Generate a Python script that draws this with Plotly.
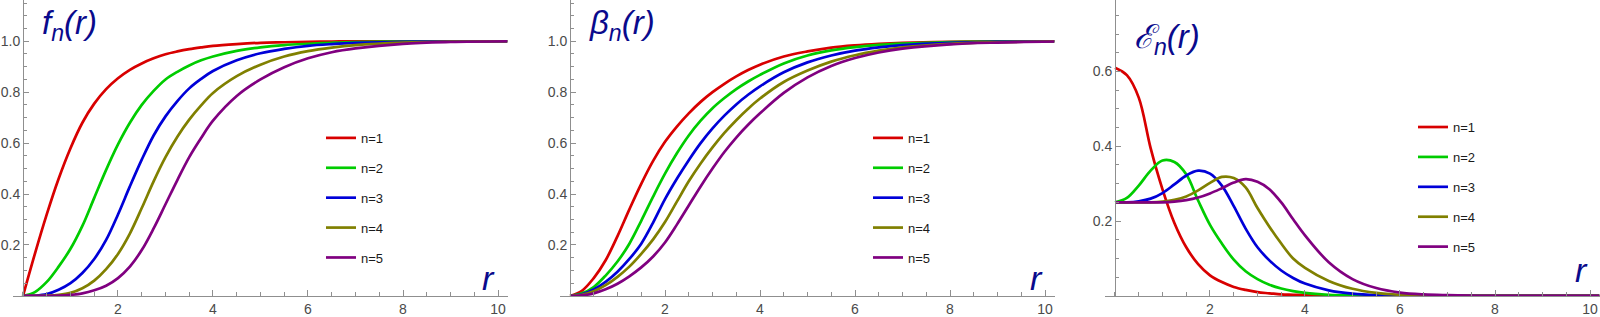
import plotly.graph_objects as go

# ---------------- data ----------------
r = [0, 0.25, 0.5, 0.75, 1, 1.25, 1.5, 1.75, 2, 2.25, 2.5, 2.75, 3, 3.25, 3.5, 3.75,
     4, 4.5, 5, 5.5, 6, 6.5, 7, 8, 9, 10.2]

series_names = ["n=1", "n=2", "n=3", "n=4", "n=5"]
colors = ["#d80000", "#00cc00", "#0000d8", "#808000", "#800080"]

f1 = [0, 0.165, 0.32, 0.46, 0.58, 0.68, 0.755, 0.812, 0.855, 0.888, 0.913, 0.933, 0.949, 0.96,
      0.969, 0.976, 0.982, 0.989, 0.994, 0.996, 0.998, 0.999, 1.0, 1.0, 1.0, 1.0]
f2 = [0, 0.015, 0.055, 0.115, 0.185, 0.275, 0.385, 0.495, 0.595, 0.68, 0.75, 0.805, 0.85, 0.88,
      0.905, 0.925, 0.94, 0.962, 0.976, 0.985, 0.99, 0.994, 0.997, 0.999, 1.0, 1.0]
f3 = [0, 0.001, 0.007, 0.024, 0.05, 0.09, 0.145, 0.22, 0.32, 0.43, 0.535, 0.63, 0.705, 0.765,
      0.815, 0.852, 0.883, 0.925, 0.953, 0.97, 0.982, 0.989, 0.994, 0.998, 1.0, 1.0]
f4 = [0, 0.0, 0.001, 0.004, 0.012, 0.03, 0.06, 0.105, 0.165, 0.245, 0.345, 0.45, 0.545, 0.625,
      0.692, 0.748, 0.797, 0.863, 0.908, 0.94, 0.961, 0.975, 0.985, 0.995, 0.999, 1.0]
f5 = [0, 0.0, 0.0005, 0.001, 0.004, 0.01, 0.022, 0.04, 0.07, 0.115, 0.18, 0.265, 0.36, 0.455,
      0.545, 0.62, 0.688, 0.785, 0.85, 0.898, 0.933, 0.957, 0.972, 0.99, 0.997, 1.0]

b1 = [0, 0.02, 0.07, 0.14, 0.235, 0.34, 0.44, 0.53, 0.605, 0.665, 0.717, 0.762, 0.8, 0.833,
      0.862, 0.887, 0.908, 0.94, 0.96, 0.975, 0.984, 0.99, 0.994, 0.998, 1.0, 1.0]
b2 = [0, 0.01, 0.035, 0.08, 0.135, 0.205, 0.295, 0.39, 0.48, 0.56, 0.63, 0.688, 0.737, 0.777,
      0.812, 0.842, 0.868, 0.913, 0.944, 0.964, 0.977, 0.986, 0.991, 0.997, 0.999, 1.0]
b3 = [0, 0.006, 0.025, 0.055, 0.095, 0.145, 0.205, 0.288, 0.38, 0.46, 0.533, 0.6, 0.658, 0.708,
      0.752, 0.79, 0.823, 0.878, 0.917, 0.944, 0.963, 0.976, 0.985, 0.994, 0.998, 1.0]
b4 = [0, 0.004, 0.018, 0.042, 0.075, 0.115, 0.165, 0.222, 0.29, 0.37, 0.45, 0.52, 0.583, 0.64,
      0.69, 0.735, 0.775, 0.84, 0.885, 0.92, 0.945, 0.963, 0.976, 0.99, 0.996, 1.0]
b5 = [0, 0.002, 0.01, 0.026, 0.048, 0.077, 0.112, 0.155, 0.21, 0.28, 0.355, 0.43, 0.5, 0.565,
      0.622, 0.672, 0.717, 0.797, 0.858, 0.903, 0.934, 0.956, 0.971, 0.988, 0.995, 0.999]

e1 = [0.61, 0.59, 0.53, 0.395, 0.285, 0.195, 0.13, 0.085, 0.055, 0.037, 0.024, 0.016, 0.01,
      0.007, 0.004, 0.003, 0.002, 0.001, 0, 0, 0, 0, 0, 0, 0, 0]
e2 = [0.25, 0.262, 0.295, 0.335, 0.362, 0.358, 0.325, 0.255, 0.19, 0.14, 0.097, 0.066, 0.045,
      0.03, 0.02, 0.013, 0.008, 0.003, 0.001, 0, 0, 0, 0, 0, 0, 0]
e3 = [0.25, 0.25, 0.253, 0.26, 0.275, 0.298, 0.322, 0.335, 0.327, 0.295, 0.24, 0.18, 0.13,
      0.095, 0.068, 0.048, 0.033, 0.015, 0.006, 0.002, 0.001, 0, 0, 0, 0, 0]
e4 = [0.25, 0.25, 0.25, 0.25, 0.252, 0.257, 0.266, 0.282, 0.302, 0.318, 0.315, 0.29, 0.235,
      0.185, 0.14, 0.1, 0.075, 0.04, 0.019, 0.008, 0.003, 0.001, 0, 0, 0, 0]
e5 = [0.25, 0.25, 0.25, 0.25, 0.25, 0.252, 0.256, 0.263, 0.274, 0.288, 0.303, 0.312, 0.305,
      0.285, 0.25, 0.205, 0.162, 0.09, 0.045, 0.021, 0.009, 0.004, 0.002, 0, 0, 0]

panel_data = [[f1, f2, f3, f4, f5], [b1, b2, b3, b4, b5], [e1, e2, e3, e4, e5]]
panel_titles = ["<i>f</i><sub><i>n</i></sub><i>(r)</i>",
                "<i>β</i><sub><i>n</i></sub><i>(r)</i>",
                "<i>ℰ</i><sub><i>n</i></sub><i>(r)</i>"]
y_ranges = [[0, 1.162], [0, 1.162], [0, 0.791]]
y_tickvals = [[0.2, 0.4, 0.6, 0.8, 1.0], [0.2, 0.4, 0.6, 0.8, 1.0], [0.2, 0.4, 0.6]]
x_tickvals = [2, 4, 6, 8, 10]

# ---------------- layout geometry (pixels) ----------------
W, H = 1600, 317
yaxis_px = [23, 570, 1115]          # pixel x of r = 0
px_per_unit = 47.5
x_left = -0.21
x_right = 10.2
y0_px = 299.7                        # pixel y of value 0
title_center_dx = [46, 52, 52]       # title centre, px right of the y axis
title_center_y = [25, 25, 40]

fig = go.Figure()
axis_color = "#8f8f8f"
tick_font = dict(family="Liberation Sans, Arial, sans-serif", size=14, color="#4a4a4a")
label_color = "#0a0a8c"
label_font = "Liberation Sans, Arial, sans-serif"

for p in range(3):
    xa = "x" if p == 0 else f"x{p+1}"
    ya = "y" if p == 0 else f"y{p+1}"
    lg = "legend" if p == 0 else f"legend{p+1}"
    for k in range(5):
        fig.add_trace(go.Scatter(
            x=r, y=panel_data[p][k], mode="lines", name=series_names[k],
            line=dict(color=colors[k], width=2.7, shape="spline", smoothing=1.0),
            xaxis=xa, yaxis=ya, legend=lg, legendgroup=f"g{p}{k}",
            hoverinfo="skip", cliponaxis=False))

    dom_l = (yaxis_px[p] + x_left * px_per_unit) / W
    dom_r = min((yaxis_px[p] + x_right * px_per_unit) / W, 1.0)
    xkey = "xaxis" if p == 0 else f"xaxis{p+1}"
    ykey = "yaxis" if p == 0 else f"yaxis{p+1}"
    fig.layout[xkey] = dict(
        domain=[dom_l, dom_r], range=[x_left, x_right], anchor=ya,
        showgrid=False, zeroline=False, showline=True, linecolor=axis_color, linewidth=1,
        tickmode="array", tickvals=x_tickvals, ticktext=[str(v) for v in x_tickvals],
        ticks="inside", ticklen=6, tickcolor=axis_color, tickwidth=1,
        tickfont=tick_font,
        minor=dict(ticks="inside", ticklen=3.5, tickcolor=axis_color, tickwidth=1,
                   tickmode="linear", tick0=0, dtick=0.5),
        fixedrange=True)
    fig.layout[ykey] = dict(
        domain=[(H - y0_px) / H, 1.0], range=y_ranges[p], anchor="free",
        position=yaxis_px[p] / W,
        showgrid=False, zeroline=False, showline=True, linecolor=axis_color, linewidth=1,
        tickmode="array", tickvals=y_tickvals[p],
        ticktext=[f"{v:.1f}" for v in y_tickvals[p]],
        ticks="inside", ticklen=5, tickcolor=axis_color, tickwidth=1,
        tickfont=tick_font,
        minor=dict(ticks="inside", ticklen=3, tickcolor=axis_color, tickwidth=1,
                   tickmode="linear", tick0=0, dtick=0.05),
        fixedrange=True)

    # panel title label (top-left) and axis label r
    fig.add_annotation(
        x=(yaxis_px[p] + title_center_dx[p]) / W, y=1 - title_center_y[p] / H,
        xref="paper", yref="paper", xanchor="center", yanchor="middle",
        text=panel_titles[p], showarrow=False,
        font=dict(family=label_font, size=33, color=label_color))
    fig.add_annotation(
        x=(yaxis_px[p] + 466) / W, y=1 - (282 if p < 2 else 273) / H,
        xref="paper", yref="paper", xanchor="center", yanchor="middle",
        text="<i>r</i>", showarrow=False,
        font=dict(family=label_font, size=34, color=label_color))

    legend_cfg = dict(
        x=(yaxis_px[p] + 298) / W, y=1 - (124.5 if p < 2 else 113.5) / H,
        xanchor="left", yanchor="top", bgcolor="rgba(0,0,0,0)", borderwidth=0,
        traceorder="grouped", tracegroupgap=10,
        font=dict(family="Liberation Sans, Arial, sans-serif", size=13, color="#1a1a1a"))
    lkey = "legend" if p == 0 else f"legend{p+1}"
    fig.layout[lkey] = legend_cfg

fig.update_layout(
    width=W, height=H, margin=dict(l=0, r=0, t=0, b=0),
    paper_bgcolor="white", plot_bgcolor="white", showlegend=True)

fig.write_html("out.html")
